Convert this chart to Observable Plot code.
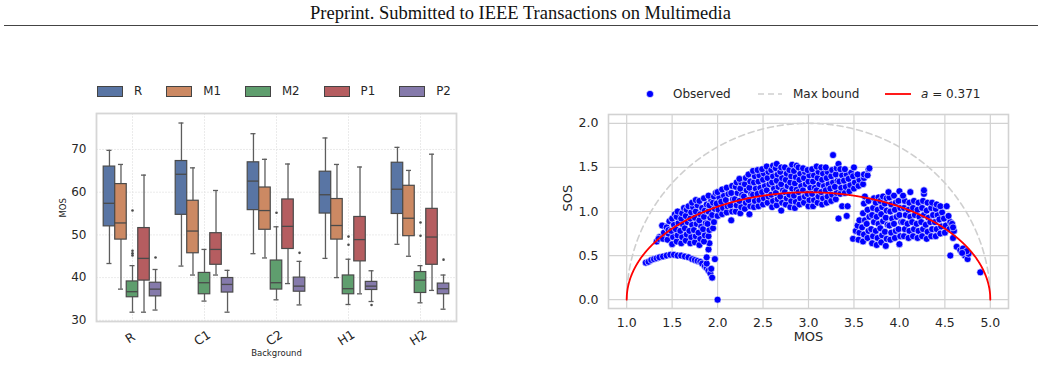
<!DOCTYPE html>
<html><head><meta charset="utf-8">
<script src="https://cdn.jsdelivr.net/npm/d3@7"></script>
<script src="https://cdn.jsdelivr.net/npm/@observablehq/plot@0.6"></script>
<style>
body{margin:0;background:#fff;width:1041px;height:369px;position:relative;overflow:hidden;font-family:"DejaVu Sans",sans-serif;color:#262626}
#hdr{position:absolute;left:0;top:2px;width:1041px;text-align:center;font-family:"Liberation Serif",serif;font-size:18.5px;line-height:22px;color:#111;white-space:nowrap}
#rule{position:absolute;left:4px;top:24.5px;width:1034px;height:0;border-top:1.8px solid #444}
#left{position:absolute;left:0;top:100px}
#right{position:absolute;left:560px;top:100px}
.legL{position:absolute;left:97px;top:85px;height:12px;display:flex;align-items:center;font-size:11.8px;line-height:12px}
.legL .sw{display:inline-block;width:24px;height:9px;border:1px solid #444;margin-right:11px}
.legL .lt{margin-right:24px}
.lr{position:absolute;font-size:12px;line-height:14px;top:87px;white-space:nowrap}
.ls{position:absolute}
</style>
</head><body>
<div id="hdr">Preprint. Submitted to IEEE Transactions on Multimedia</div>
<div id="rule"></div>
<div class="legL" id="legL"></div>
<svg class="ls" style="left:645px;top:89px" width="10" height="10"><circle cx="5" cy="5" r="3.6" fill="#0000ff" stroke="#fff" stroke-width="0.6"/></svg>
<span class="lr" style="left:673px">Observed</span>
<svg class="ls" style="left:758px;top:90px" width="25" height="8"><line x1="0" y1="4" x2="24" y2="4" stroke="#cfcfcf" stroke-width="1.6" stroke-dasharray="6,4"/></svg>
<span class="lr" style="left:793px">Max bound</span>
<svg class="ls" style="left:885px;top:90px" width="27" height="8"><line x1="0" y1="4" x2="26" y2="4" stroke="red" stroke-width="1.8"/></svg>
<span class="lr" style="left:921px"><i>a</i> = 0.371</span>
<div id="left"></div>
<div id="right"></div>
<script>
// ---------- Left panel data (box statistics: [whiskerLow, Q1, median, Q3, whiskerHigh]) ----------
const backgrounds = ["R", "C1", "C2", "H1", "H2"];
const methods = ["R", "M1", "M2", "P1", "P2"];
const methodColors = ["#5975A4", "#CC8963", "#5F9E6E", "#B55D60", "#857AAB"];
const boxR  = [[43.3,52.0,57.4,66.0,69.8],[42.7,54.7,64.2,67.3,76.2],[45.6,55.8,62.6,67.0,73.7],[44.5,55.0,59.4,64.8,72.7],[47.8,54.9,60.7,66.9,70.5]];
const boxM1 = [[37.3,48.9,52.8,61.9,66.5],[40.6,45.7,50.9,58.0,65.7],[44.6,51.2,55.7,61.1,67.7],[40.0,48.9,52.2,58.4,66.5],[45.0,49.7,53.9,61.5,65.1]];
const boxM2 = [[31.9,35.4,36.7,39.1,42.8],[34.5,36.1,38.8,41.1,46.6],[34.8,37.2,38.8,44.0,51.9],[33.7,36.1,37.4,40.5,44.3],[34.1,36.4,39.4,41.3,42.8]];
const boxP1 = [[31.9,39.3,44.5,51.6,64.0],[40.6,43.0,46.6,50.4,60.4],[38.6,46.7,52.0,58.3,66.6],[36.2,43.8,48.9,54.2,65.9],[37.0,43.0,49.5,56.1,68.9]];
const boxP2 = [[32.4,35.6,37.3,38.8,41.9],[31.9,36.5,38.4,39.9,41.7],[33.6,36.7,38.0,40.0,43.8],[34.4,37.1,38.0,39.0,41.6],[32.6,36.1,37.4,38.6,40.6]];
const outliers = [["R","M2",55.7],["R","M2",46.3],["R","M2",45.7],["R","M2",45.2],["R","P2",44.7],
  ["C2","M2",55.2],["C2","P2",45.8],["H1","M2",49.6],["H1","M2",47.7],["H1","P2",33.6],
  ["H2","M2",52.9],["H2","M2",49.8],["H2","P2",44.2]];
const yTicksLeft = [30, 40, 50, 60, 70];

// ---------- Right panel data (MOS, SOS) ----------
const arcPoints = [[1.21,0.42],[1.24,0.43],[1.27,0.45],[1.30,0.46],[1.33,0.47],[1.36,0.48],[1.40,0.49],[1.44,0.50],[1.48,0.51],[1.52,0.51],[1.56,0.50],[1.60,0.50],[1.64,0.49],[1.68,0.48],[1.72,0.46],[1.75,0.45],[1.78,0.44],[1.81,0.43],[1.83,0.41],[1.86,0.38],[1.88,0.36],[1.90,0.33],[1.92,0.30],[1.94,0.25],[1.93,0.35],[1.88,0.41],[1.88,0.48],[1.97,0.46],[1.90,0.57],[1.91,0.64],[2.00,0.00]];
const leftCloud = [[1.33,0.66],[1.36,0.71],[1.35,0.69],
 [1.40,0.69],[1.41,0.76],[1.42,0.83],[1.39,0.84],
 [1.45,0.68],[1.46,0.75],[1.44,0.82],[1.47,0.89],[1.46,0.79],
 [1.50,0.63],[1.51,0.71],[1.49,0.78],[1.52,0.85],[1.50,0.92],[1.53,0.97],
 [1.55,0.66],[1.56,0.73],[1.54,0.80],[1.57,0.87],[1.55,0.94],[1.56,1.00],
 [1.60,0.64],[1.61,0.71],[1.59,0.78],[1.62,0.85],[1.60,0.92],[1.61,0.98],[1.63,1.04],
 [1.65,0.67],[1.66,0.74],[1.64,0.81],[1.67,0.88],[1.65,0.95],[1.66,1.02],[1.68,1.06],
 [1.70,0.64],[1.71,0.71],[1.69,0.78],[1.72,0.85],[1.70,0.92],[1.71,0.99],[1.73,1.05],[1.72,1.10],
 [1.75,0.65],[1.76,0.72],[1.74,0.79],[1.77,0.86],[1.75,0.93],[1.76,1.00],[1.78,1.07],[1.76,1.13],
 [1.80,0.62],[1.81,0.69],[1.79,0.76],[1.82,0.83],[1.80,0.90],[1.81,0.97],[1.83,1.04],[1.80,1.12],
 [1.85,0.66],[1.86,0.73],[1.84,0.80],[1.87,0.87],[1.85,0.94],[1.86,1.01],[1.88,1.08],[1.85,1.15],
 [1.90,0.72],[1.91,0.79],[1.89,0.86],[1.92,0.93],[1.90,1.00],[1.91,1.07],[1.93,1.13],[1.90,1.18],
 [1.95,0.81],[1.96,0.88],[1.94,0.96],[1.97,1.03],[1.95,1.10],[1.96,1.17],[1.98,1.21]];
const centralBand = [[2.00,0.95],[2.01,1.02],[1.99,1.09],[2.02,1.16],[2.00,1.22],
 [2.05,0.97],[2.06,1.04],[2.04,1.11],[2.07,1.18],[2.05,1.25],
 [2.10,0.99],[2.11,1.06],[2.09,1.13],[2.12,1.20],[2.10,1.27],
 [2.15,0.90],[2.16,1.00],[2.14,1.07],[2.17,1.14],[2.15,1.21],[2.16,1.29],
 [2.20,1.00],[2.21,1.07],[2.19,1.14],[2.22,1.21],[2.20,1.28],[2.21,1.33],
 [2.25,0.98],[2.26,1.05],[2.24,1.12],[2.27,1.19],[2.25,1.26],[2.26,1.33],[2.24,1.37],
 [2.30,1.03],[2.31,1.10],[2.29,1.17],[2.32,1.24],[2.30,1.31],[2.31,1.38],
 [2.35,0.97],[2.36,1.06],[2.34,1.13],[2.37,1.20],[2.35,1.27],[2.36,1.34],[2.34,1.42],
 [2.40,1.05],[2.41,1.12],[2.39,1.19],[2.42,1.26],[2.40,1.33],[2.41,1.40],[2.39,1.46],
 [2.45,1.06],[2.46,1.13],[2.44,1.20],[2.47,1.27],[2.45,1.34],[2.46,1.41],[2.44,1.47],
 [2.50,1.08],[2.51,1.15],[2.49,1.22],[2.52,1.29],[2.50,1.36],[2.51,1.43],[2.49,1.48],
 [2.55,1.10],[2.56,1.17],[2.54,1.24],[2.57,1.31],[2.55,1.38],[2.56,1.45],[2.54,1.51],
 [2.60,1.05],[2.61,1.12],[2.59,1.19],[2.62,1.26],[2.60,1.33],[2.61,1.40],[2.59,1.47],[2.61,1.52],
 [2.65,1.07],[2.66,1.14],[2.64,1.21],[2.67,1.28],[2.65,1.35],[2.66,1.42],[2.64,1.49],[2.65,1.54],
 [2.70,1.01],[2.71,1.10],[2.69,1.17],[2.72,1.24],[2.70,1.31],[2.71,1.38],[2.69,1.45],[2.70,1.50],
 [2.75,1.08],[2.76,1.15],[2.74,1.22],[2.77,1.29],[2.75,1.36],[2.76,1.43],[2.74,1.50],
 [2.80,1.05],[2.81,1.12],[2.79,1.19],[2.82,1.26],[2.80,1.33],[2.81,1.40],[2.79,1.47],[2.82,1.53],
 [2.85,1.04],[2.86,1.11],[2.84,1.18],[2.87,1.25],[2.85,1.32],[2.86,1.39],[2.84,1.46],[2.87,1.52],
 [2.90,1.08],[2.91,1.15],[2.89,1.22],[2.92,1.29],[2.90,1.36],[2.91,1.43],[2.89,1.50],
 [2.95,1.10],[2.96,1.17],[2.94,1.24],[2.97,1.31],[2.95,1.38],[2.96,1.45],[2.94,1.49],
 [3.00,1.06],[3.01,1.13],[2.99,1.20],[3.02,1.27],[3.00,1.34],[3.01,1.41],[2.99,1.47],
 [3.05,1.06],[3.06,1.13],[3.04,1.20],[3.07,1.27],[3.05,1.34],[3.06,1.41],[3.04,1.48],
 [3.10,1.10],[3.11,1.17],[3.09,1.24],[3.12,1.31],[3.10,1.38],[3.11,1.45],[3.09,1.51],
 [3.15,1.08],[3.16,1.15],[3.14,1.22],[3.17,1.29],[3.15,1.36],[3.16,1.43],[3.14,1.50],
 [3.20,1.10],[3.21,1.17],[3.19,1.24],[3.22,1.31],[3.20,1.38],[3.21,1.45],[3.19,1.50],
 [3.25,1.12],[3.26,1.19],[3.24,1.26],[3.27,1.33],[3.25,1.40],[3.26,1.47],[3.27,1.64],
 [3.30,1.14],[3.31,1.21],[3.29,1.28],[3.32,1.35],[3.30,1.42],[3.31,1.49],[3.33,1.54],
 [3.35,1.20],[3.36,1.27],[3.34,1.34],[3.37,1.41],[3.35,1.48],[3.33,0.92],[3.37,1.06],
 [3.40,1.21],[3.41,1.28],[3.39,1.35],[3.42,1.42],[3.40,1.48],[3.42,0.95],[3.43,1.06],
 [3.45,1.23],[3.46,1.30],[3.44,1.37],[3.47,1.44],
 [3.50,1.26],[3.51,1.33],[3.49,1.40],[3.50,1.50],
 [3.55,1.29],[3.56,1.36],[3.54,1.42],
 [3.60,1.31],[3.61,1.38],[3.61,1.42],
 [3.65,1.41],[3.66,1.48],[3.67,1.49]];
const rightCloud = [[3.49,0.69],[3.52,0.78],
 [3.55,0.68],[3.56,0.76],[3.54,0.84],[3.56,0.90],
 [3.60,0.66],[3.61,0.74],[3.59,0.82],[3.62,0.90],[3.60,0.98],[3.61,1.09],[3.62,1.17],
 [3.65,0.70],[3.66,0.78],[3.64,0.86],[3.67,0.94],[3.65,1.02],[3.66,1.12],
 [3.70,0.64],[3.71,0.72],[3.69,0.80],[3.72,0.88],[3.70,0.96],[3.71,1.04],[3.72,1.15],
 [3.75,0.62],[3.76,0.70],[3.74,0.78],[3.77,0.86],[3.75,0.94],[3.76,1.02],[3.74,1.10],[3.77,1.16],
 [3.80,0.65],[3.81,0.73],[3.79,0.81],[3.82,0.89],[3.80,0.97],[3.81,1.05],[3.79,1.12],[3.82,1.17],
 [3.85,0.61],[3.86,0.69],[3.84,0.77],[3.87,0.85],[3.85,0.93],[3.86,1.01],[3.84,1.09],[3.86,1.15],
 [3.90,0.68],[3.91,0.76],[3.89,0.84],[3.92,0.92],[3.90,1.00],[3.91,1.08],[3.89,1.16],[3.88,1.22],
 [3.95,0.70],[3.96,0.78],[3.94,0.86],[3.97,0.94],[3.95,1.02],[3.96,1.10],[3.94,1.18],
 [4.00,0.63],[4.01,0.72],[3.99,0.80],[4.02,0.88],[4.00,0.96],[4.01,1.04],[3.99,1.12],[4.00,1.23],
 [4.05,0.72],[4.06,0.80],[4.04,0.88],[4.07,0.96],[4.05,1.04],[4.06,1.12],[4.04,1.18],
 [4.10,0.70],[4.11,0.78],[4.09,0.86],[4.12,0.94],[4.10,1.02],[4.11,1.10],[4.12,1.22],
 [4.15,0.72],[4.16,0.80],[4.14,0.88],[4.17,0.96],[4.15,1.04],[4.16,1.12],
 [4.20,0.70],[4.21,0.78],[4.19,0.86],[4.22,0.94],[4.20,1.02],[4.21,1.10],
 [4.25,0.72],[4.26,0.80],[4.24,0.88],[4.27,0.96],[4.25,1.04],[4.26,1.12],[4.27,1.20],[4.27,1.24],
 [4.30,0.69],[4.31,0.77],[4.29,0.85],[4.32,0.93],[4.30,1.01],[4.31,1.10],
 [4.35,0.72],[4.36,0.80],[4.34,0.88],[4.37,0.96],[4.35,1.04],[4.36,1.10],
 [4.40,0.72],[4.41,0.80],[4.39,0.88],[4.42,0.96],[4.40,1.03],[4.41,1.08],
 [4.45,0.75],[4.46,0.83],[4.44,0.91],[4.47,0.99],[4.45,1.06],
 [4.50,0.76],[4.51,0.84],[4.49,0.92],[4.52,1.06],
 [4.55,0.80],[4.56,0.88],[4.54,0.95],
 [4.59,0.70],[4.60,0.78],[4.58,0.86],[4.59,0.82]];
const tailPoints = [[4.63,0.60],[4.67,0.56],[4.56,0.50],[4.70,0.58],[4.72,0.50],[4.75,0.46],[4.76,0.52],[4.74,0.55],[4.69,0.53],[4.89,0.31]];
const A_FIT = 0.371;
const xTicksRight = [1.0, 1.5, 2.0, 2.5, 3.0, 3.5, 4.0, 4.5, 5.0];
const yTicksRight = [0.0, 0.5, 1.0, 1.5, 2.0];

// ---------- Left legend (HTML) ----------
const legL = document.getElementById("legL");
methods.forEach((m, i) => {
  const sw = document.createElement("span"); sw.className = "sw"; sw.style.background = methodColors[i];
  const t = document.createElement("span"); t.className = "lt"; t.textContent = m;
  legL.append(sw, t);
});

// ---------- Left panel ----------
const boxSets = [boxR, boxM1, boxM2, boxP1, boxP2];
const W = 0.16;
const rows = [];
boxSets.forEach((set, mi) => set.forEach((s, gi) => {
  rows.push({bg: backgrounds[gi], method: methods[mi], x: gi + (mi - 2) * W,
    low: s[0], q1: s[1], med: s[2], q3: s[3], high: s[4]});
}));
const outRows = outliers.map(([bg, m, v]) => ({x: backgrounds.indexOf(bg) + (methods.indexOf(m) - 2) * W, y: v}));
const edge = "#4a4a4a";
const left = Plot.plot({
  width: 480, height: 265,
  marginLeft: 96, marginRight: 24, marginTop: 13, marginBottom: 44,
  style: {fontFamily: "DejaVu Sans", fontSize: "11.5px", color: "#262626", background: "transparent"},
  x: {domain: [-0.5, 4.5], axis: null},
  y: {domain: [29.72, 78.43]},
  color: {domain: methods, range: methodColors},
  marks: [
    Plot.gridY(yTicksLeft, {stroke: "#e6e6e6", strokeOpacity: 1, strokeWidth: 0.8, strokeDasharray: "2,1"}),
    Plot.gridX(d3.range(backgrounds.length), {stroke: "#e6e6e6", strokeOpacity: 1, strokeWidth: 0.8, strokeDasharray: "2,1"}),
    Plot.ruleX(rows, {x: "x", y1: "low", y2: "q1", stroke: "#5d5d5d", strokeWidth: 1.3}),
    Plot.ruleX(rows, {x: "x", y1: "q3", y2: "high", stroke: "#5d5d5d", strokeWidth: 1.3}),
    Plot.ruleY(rows, {y: "low", x1: d => d.x - 0.035, x2: d => d.x + 0.035, stroke: "#5d5d5d", strokeWidth: 1.3}),
    Plot.ruleY(rows, {y: "high", x1: d => d.x - 0.035, x2: d => d.x + 0.035, stroke: "#5d5d5d", strokeWidth: 1.3}),
    Plot.rect(rows, {x1: d => d.x - W / 2, x2: d => d.x + W / 2, y1: "q1", y2: "q3", fill: "method", stroke: edge, strokeWidth: 1.2, inset: 0}),
    Plot.ruleY(rows, {y: "med", x1: d => d.x - W / 2, x2: d => d.x + W / 2, stroke: edge, strokeWidth: 1.3}),
    Plot.dot(outRows, {x: "x", y: "y", r: 1.3, fill: edge, stroke: null}),
    Plot.frame({stroke: "#d6d6d6", strokeWidth: 1.8}),
    Plot.axisY(yTicksLeft, {tickSize: 0, tickPadding: 10, label: null, fontSize: 12}),
    Plot.text(backgrounds, {x: (d, i) => i, text: d => d, frameAnchor: "bottom", dy: 20, rotate: -32, fontSize: 12.5, fill: "#262626"}),
    Plot.text(["MOS"], {text: d => d, frameAnchor: "left", dx: -33, rotate: -90, fontSize: 8.5, fill: "#262626"}),
    Plot.text(["Background"], {text: d => d, frameAnchor: "bottom", dy: 34, fontSize: 8.5, fill: "#262626"})
  ]
});
document.getElementById("left").append(left);

// ---------- Right panel ----------
const mosGrid = d3.range(0, 2001).map(i => 1 + i * 0.002);
const fitCurve = mosGrid.map(m => ({mos: m, sos: Math.sqrt(Math.max(0, A_FIT * (m - 1) * (5 - m)))}));
const maxCurve = mosGrid.map(m => ({mos: m, sos: Math.sqrt(Math.max(0, (m - 1) * (5 - m)))}));
const allPoints = [...arcPoints, ...leftCloud, ...centralBand, ...rightCloud, ...tailPoints];
const right = Plot.plot({
  width: 460, height: 260,
  marginLeft: 48, marginRight: 12, marginTop: 14, marginBottom: 52,
  style: {fontFamily: "DejaVu Sans", fontSize: "12.5px", color: "#262626", background: "transparent"},
  x: {domain: [0.8, 5.2]},
  y: {domain: [-0.1, 2.1]},
  marks: [
    Plot.gridX(xTicksRight, {stroke: "#d2d2d2", strokeOpacity: 1, strokeWidth: 1.2}),
    Plot.gridY(yTicksRight, {stroke: "#d2d2d2", strokeOpacity: 1, strokeWidth: 1.2}),
    Plot.frame({stroke: "#d2d2d2", strokeWidth: 1.6}),
    Plot.line(maxCurve, {x: "mos", y: "sos", stroke: "#cfcfcf", strokeWidth: 1.6, strokeDasharray: "6,4"}),
    Plot.dot(allPoints, {x: d => d[0], y: d => d[1], r: 3.5, fill: "#0000ff", stroke: "white", strokeWidth: 0.6}),
    Plot.line(fitCurve, {x: "mos", y: "sos", stroke: "red", strokeWidth: 1.8}),
    Plot.axisX(xTicksRight, {tickSize: 0, tickPadding: 10, label: null, tickFormat: d3.format(".1f")}),
    Plot.axisY(yTicksRight, {tickSize: 0, tickPadding: 10, label: null, tickFormat: d3.format(".1f")}),
    Plot.text(["MOS"], {text: d => d, frameAnchor: "bottom", dy: 32, fontSize: 13, fill: "#262626"}),
    Plot.text(["SOS"], {text: d => d, frameAnchor: "left", dx: -41, rotate: -90, fontSize: 13, fill: "#262626"})
  ]
});
document.getElementById("right").append(right);
</script>
</body></html>
